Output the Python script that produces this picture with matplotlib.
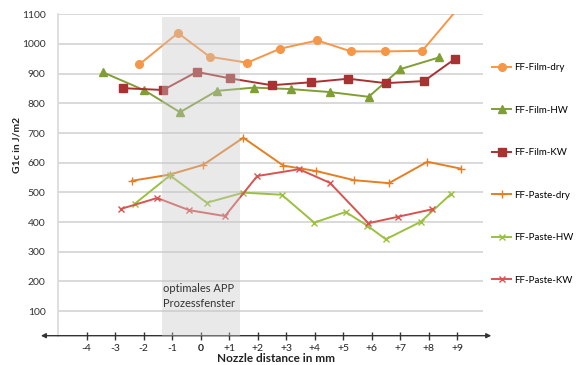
import matplotlib
matplotlib.use("Agg")
import matplotlib.pyplot as plt
from matplotlib.patches import Rectangle

plt.rcParams['font.family'] = ['Lato', 'DejaVu Sans']

# nozzle distance (mm) and G1c (J/m2) per series
film_dry_x = [-2.15, -0.79, 0.32, 1.64, 2.79, 4.1, 5.28, 6.47, 7.78, 9.3]
film_dry_y = [931, 1037, 957, 937, 984, 1012, 975, 975, 977, 1150]

film_hw_x = [-3.41, -1.97, -0.72, 0.57, 1.88, 3.16, 4.54, 5.9, 7.0, 8.38]
film_hw_y = [904, 844, 770, 842, 853, 848, 838, 822, 915, 955]

film_kw_x = [-2.71, -1.31, -0.13, 1.04, 2.5, 3.87, 5.19, 6.5, 7.84, 8.93]
film_kw_y = [851, 845, 906, 884, 861, 871, 883, 868, 875, 950]

paste_dry_x = [-2.41, -1.07, 0.1, 1.5, 2.91, 4.05, 5.39, 6.61, 7.96, 9.13]
paste_dry_y = [539, 560, 593, 684, 590, 572, 541, 531, 603, 580]

paste_hw_x = [-2.3, -1.07, 0.22, 1.5, 2.85, 3.99, 5.09, 5.85, 6.5, 7.73, 8.78]
paste_hw_y = [462, 557, 465, 499, 492, 398, 434, 388, 342, 401, 494]

paste_kw_x = [-2.8, -1.52, -0.4, 0.86, 1.99, 3.46, 4.54, 5.89, 6.94, 8.13]
paste_kw_y = [444, 481, 440, 420, 555, 578, 532, 396, 418, 443]

tick_pos = list(range(-4, 10))
tick_labels = ['-4', '-3', '-2', '-1', '0', '+1', '+2', '+3', '+4',
               '+5', '+6', '+7', '+8', '+9']
y_ticks = list(range(100, 1200, 100))

series = [
    ('FF-Film-dry', film_dry_x, film_dry_y, '#F79646', 'o', 5.5),
    ('FF-Film-HW', film_hw_x, film_hw_y, '#7F9F35', '^', 6),
    ('FF-Film-KW', film_kw_x, film_kw_y, '#A83232', 's', 5.5),
    ('FF-Paste-dry', paste_dry_x, paste_dry_y, '#E67E22', '+', 6),
    ('FF-Paste-HW', paste_hw_x, paste_hw_y, '#9BC03F', 'x', 5),
    ('FF-Paste-KW', paste_kw_x, paste_kw_y, '#D9534F', 'x', 5),
]

fig = plt.figure(figsize=(5.76, 3.65), dpi=100)
ax = fig.add_axes([0.1007, 0.0803, 0.7373, 0.8805])

for label, xs, ys, col, mk, ms in series:
    ax.plot(xs, ys, color=col, linewidth=1.4, marker=mk, markersize=ms,
            markeredgewidth=1.0, label=label, zorder=3)

# process window overlay (drawn on top, semi-transparent)
ax.add_patch(Rectangle((-1.36, 17), 2.76, 1073, facecolor='#C8C8C8',
                       alpha=0.4, edgecolor='none', zorder=4))
ax.text(-1.3, 193, 'optimales APP\nProzessfenster', fontsize=8,
        color='#333333', va='top', ha='left', linespacing=1.4, zorder=5)

ax.set_xlim(-5, 9.9)
ax.set_ylim(17, 1100)
ax.set_yticks(y_ticks)
ax.set_yticklabels([str(v) for v in y_ticks], fontsize=7.5, color='#333333')
ax.tick_params(axis='y', length=0, pad=9)
ax.grid(axis='y', color='#D9D9D9', linewidth=1.4)
ax.set_axisbelow(True)

ax.set_xticks(tick_pos)
ax.set_xticklabels(tick_labels, fontsize=7.5, color='#222222')
ax.get_xticklabels()[tick_labels.index('0')].set_fontweight('bold')
ax.tick_params(axis='x', direction='inout', length=6, width=1.0,
               color='#333333', pad=3)

for side in ['top', 'right', 'bottom']:
    ax.spines[side].set_visible(False)
ax.spines['left'].set_color('#D9D9D9')
ax.spines['left'].set_linewidth(1.2)

# double-headed x axis arrow
ax.annotate('', xy=(10.2, 17), xytext=(-5.6, 17), xycoords='data',
            annotation_clip=False,
            arrowprops=dict(arrowstyle='<|-|>', color='#333333', lw=1.0,
                            mutation_scale=7, shrinkA=0, shrinkB=0))

fig.text(0.03, 1 - 145 / 365, 'G1c in J/m2', rotation=90, fontsize=7.5,
         fontweight='bold', ha='center', va='center', color='#222222')
fig.text(276 / 576, 0.003, 'Nozzle distance in mm', fontsize=8.5,
         fontweight='bold', ha='center', va='bottom', color='#222222')

fig.legend(loc='center left', bbox_to_anchor=(0.855, 1 - 174 / 365),
           frameon=False, fontsize=7, handlelength=1.9, handletextpad=0.3,
           labelspacing=3.45, borderpad=0, borderaxespad=0)

fig.savefig('out.png', dpi=100)
